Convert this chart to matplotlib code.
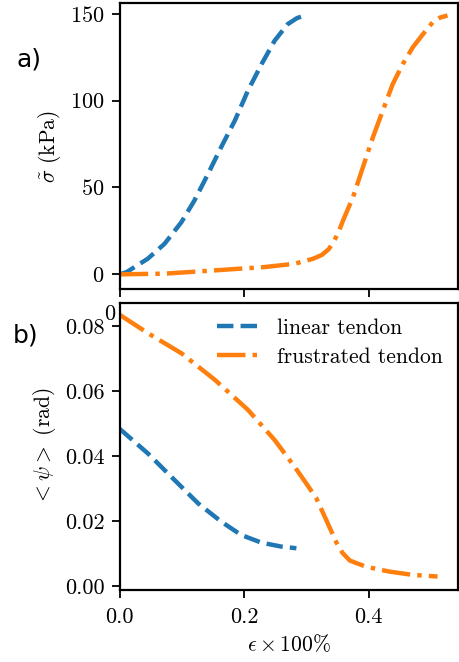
import matplotlib
matplotlib.use("Agg")
import matplotlib.pyplot as plt

plt.rcParams['font.family'] = 'cmr10'
plt.rcParams['mathtext.fontset'] = 'cm'
plt.rcParams['axes.formatter.use_mathtext'] = True
plt.rcParams['axes.unicode_minus'] = False

# a) stress vs strain
lin_x_a = [0, 0.011, 0.045, 0.072, 0.099, 0.12, 0.142, 0.163, 0.185, 0.206,
           0.228, 0.249, 0.27, 0.285, 0.297]
lin_y_a = [0, 1.3, 9, 17.6, 30, 42.5, 57.9, 73.2, 88.5, 105.7, 121, 134.5,
           144, 147.5, 149]
fru_x_a = [0, 0.072, 0.153, 0.233, 0.281, 0.311, 0.325, 0.336, 0.345, 0.352,
           0.359, 0.375, 0.391, 0.407, 0.423, 0.439, 0.455, 0.471, 0.487,
           0.503, 0.515, 0.527]
fru_y_a = [0, 0.4, 2.3, 4.2, 6.1, 9, 11.2, 14.5, 19.5, 24.5, 31, 44.4, 61.7,
           78.9, 94.3, 109.6, 121, 130.6, 138, 145, 147.8, 149]

# b) mean angle vs strain
lin_x_b = [0, 0.045, 0.088, 0.126, 0.163, 0.195, 0.228, 0.26, 0.284]
lin_y_b = [0.0483, 0.0408, 0.0326, 0.0254, 0.0198, 0.0157, 0.0133, 0.0121,
           0.0116]
fru_x_b = [0, 0.045, 0.099, 0.153, 0.206, 0.249, 0.281, 0.300, 0.316, 0.332,
           0.348, 0.358, 0.370, 0.396, 0.434, 0.471, 0.511]
fru_y_b = [0.0834, 0.0778, 0.0716, 0.0634, 0.0542, 0.0449, 0.0367, 0.0315,
           0.0270, 0.0203, 0.0135, 0.0102, 0.0078, 0.0059, 0.0044, 0.0034,
           0.0029]

labels = ['linear tendon', 'frustrated tendon']
xticks = [0.0, 0.2, 0.4]
yticks_a = [0, 50, 100, 150]
yticks_b = [0.00, 0.02, 0.04, 0.06, 0.08]

blue = '#1f77b4'
orange = '#ff7f0e'

fig = plt.figure(figsize=(4.59, 6.62), dpi=100)
ax1 = fig.add_axes([0.261, 0.563, 0.737, 0.432])
ax2 = fig.add_axes([0.261, 0.109, 0.737, 0.433])

lw = 3.2
ax1.plot(lin_x_a, lin_y_a, '--', color=blue, lw=lw)
ax1.plot(fru_x_a, fru_y_a, '-.', color=orange, lw=lw)
ax1.set_xlim(0, 0.544)
ax1.set_ylim(-8.6, 156)
ax1.set_xticks(xticks)
ax1.set_xticklabels([])
ax1.set_yticks(yticks_a)
ax1.set_ylabel(r'$\tilde{\sigma}$ (kPa)', fontsize=15.5, labelpad=5)

ax2.plot(lin_x_b, lin_y_b, '--', color=blue, lw=lw, label=labels[0])
ax2.plot(fru_x_b, fru_y_b, '-.', color=orange, lw=lw, label=labels[1])
ax2.set_xlim(0, 0.544)
ax2.set_ylim(-0.0012, 0.087)
ax2.set_xticks(xticks)
ax2.set_xticklabels(['0.0', '0.2', '0.4'])
ax2.set_yticks(yticks_b)
ax2.set_yticklabels(['0.00', '0.02', '0.04', '0.06', '0.08'])
ax2.set_ylabel(r'$<\psi>$ (rad)', fontsize=15.5, labelpad=5)
ax2.set_xlabel(r'$\epsilon\times100\%$', fontsize=15.5, labelpad=4)
ax2.legend(loc='upper right', frameon=False, fontsize=15.5, handlelength=2.0,
           borderaxespad=0.3, labelspacing=0.45, bbox_to_anchor=(1.0, 1.0))

for ax in (ax1, ax2):
    ax.tick_params(labelsize=16, width=1.3, length=6, pad=5)
    for s in ax.spines.values():
        s.set_linewidth(1.6)
ax2.tick_params(axis='x', pad=7)

fig.text(0.037, 0.899, 'a)', fontsize=18, family='DejaVu Sans')
fig.text(0.028, 0.483, 'b)', fontsize=18, family='DejaVu Sans')
fig.text(0.226, 0.517, '0', fontsize=16)

fig.savefig('out.png', dpi=100)
